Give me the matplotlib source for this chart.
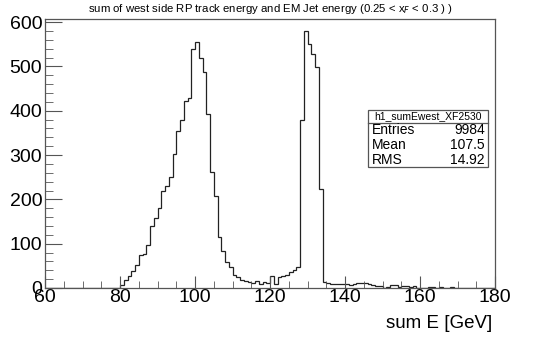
import numpy as np
import matplotlib
matplotlib.use("Agg")
import matplotlib.pyplot as plt
from matplotlib.ticker import MultipleLocator

plt.rcParams['font.family'] = ['Liberation Sans', 'DejaVu Sans']

# histogram h1_sumEwest_XF2530: 1 GeV bins from 60 to 180
x_lo, x_hi = 60, 180
counts_60_79 = [0] * 19 + [1]
counts_80_109 = [7, 18, 28, 39, 53, 74, 77, 97, 141, 157,
                 181, 218, 230, 250, 302, 354, 378, 421, 428, 540,
                 556, 518, 488, 392, 261, 208, 114, 83, 58, 47]
counts_110_133 = [30, 24, 18, 15, 14, 12, 15, 8, 14, 12,
                  27, 10, 24, 27, 30, 35, 40, 48, 379, 580,
                  551, 528, 498, 223]
counts_134_179 = [14, 12, 9, 8, 9, 8, 9, 7, 9, 11,
                  12, 11, 8, 7, 5, 4, 1, 3, 7, 7,
                  2, 5, 4, 2, 4, 1, 0, 1, 3, 2,
                  1, 2, 1, 0, 2, 1, 0, 1, 0, 1,
                  0, 1, 0, 0, 0, 0]
counts = np.array(counts_60_79 + counts_80_109 + counts_110_133 + counts_134_179)
edges = np.arange(x_lo, x_hi + 1, 1)

title = "sum of west side RP track energy and EM Jet energy (0.25 < x$_{F}$ < 0.3 ) )"
xlabel = "sum E [GeV]"
stats_name = "h1_sumEwest_XF2530"
stats_rows = [("Entries", "9984"), ("Mean", "107.5"), ("RMS", "14.92")]

fig = plt.figure(figsize=(5.44, 3.38), dpi=100)
ax = fig.add_axes([45/544, 1 - 288/338, 450/544, 269/338])

ax.stairs(counts, edges, color="#222222", lw=0.9)

ax.set_xlim(x_lo, x_hi)
ax.set_ylim(0, 607)

ax.xaxis.set_major_locator(MultipleLocator(20))
ax.xaxis.set_minor_locator(MultipleLocator(5))
ax.yaxis.set_major_locator(MultipleLocator(100))
ax.yaxis.set_minor_locator(MultipleLocator(20))
ax.tick_params(which="both", direction="in", top=False, right=False,
               labelsize=14, color="#555555")
ax.tick_params(axis="x", which="major", length=9, pad=1)
ax.tick_params(axis="x", which="minor", length=5)
ax.tick_params(axis="y", which="major", length=12, pad=2)
ax.tick_params(axis="y", which="minor", length=6)
for s in ax.spines.values():
    s.set_color("#555555")
    s.set_linewidth(0.9)

fig.text(270/544, 1 - 9/338, title, ha="center", va="center", fontsize=8.2)
fig.text(492/544, 1 - 323/338, xlabel, ha="right", va="center", fontsize=13.5)

# stats box
bx0, bx1 = 368/544, 488/544
by_top, by_hdr, by_bot = 1 - 110/338, 1 - 123/338, 1 - 167/338
box = plt.Rectangle((bx0, by_bot), bx1 - bx0, by_top - by_bot, transform=fig.transFigure,
                    fill=True, facecolor="white", edgecolor="#555555", lw=0.9)
fig.add_artist(box)
fig.add_artist(plt.Line2D([bx0, bx1], [by_hdr, by_hdr], transform=fig.transFigure,
                          color="#555555", lw=0.9))
fig.text((bx0 + bx1) / 2, (by_top + by_hdr) / 2, stats_name, ha="center", va="center", fontsize=7.5)
row_h = (by_hdr - by_bot) / len(stats_rows)
for i, (k, v) in enumerate(stats_rows):
    yy = by_hdr - row_h * (i + 0.5)
    fig.text(bx0 + 4/544, yy, k, ha="left", va="center", fontsize=10)
    fig.text(bx1 - 3/544, yy, v, ha="right", va="center", fontsize=10)

fig.savefig("out.png", dpi=100)
